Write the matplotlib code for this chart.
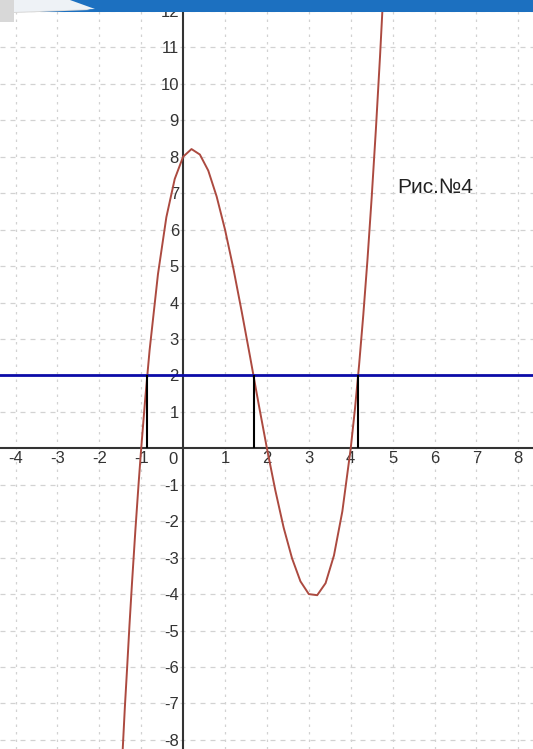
import matplotlib
matplotlib.use("Agg")
import matplotlib.pyplot as plt
from matplotlib.patches import Rectangle, Polygon

plt.rcParams['font.family'] = ['Liberation Sans', 'DejaVu Sans']

# points of the curve y = f(x)
curve_x = [-1.47, -1.39, -1.34, -1.28, -1.22, -1.14, -1.06, -1.0, -0.9, -0.8,
           -0.6, -0.4, -0.2, 0.0, 0.2, 0.4, 0.6, 0.8, 1.0, 1.2, 1.4, 1.6, 1.8,
           2.0, 2.2, 2.4, 2.6, 2.8, 3.0, 3.2, 3.4, 3.6, 3.8, 4.0, 4.1, 4.2,
           4.3, 4.4, 4.5, 4.6, 4.7, 4.8]
curve_y = [-8.9, -7.1, -6.1, -4.85, -3.7, -2.26, -0.93, 0.0, 1.42, 2.69,
           4.78, 6.34, 7.39, 8.0, 8.21, 8.06, 7.62, 6.91, 6.0, 4.93, 3.74, 2.5, 1.23,
           0.0, -1.15, -2.18, -3.02, -3.65, -4.0, -4.03, -3.7, -2.94, -1.73, 0.0, 1.07, 2.29,
           3.66, 5.18, 6.88, 8.74, 10.77, 12.99]

level = 2                        # horizontal line y = 2
cross_x = [-0.86, 1.7, 4.18]     # where the curve meets y = 2

x_ticks = [-4, -3, -2, -1, 1, 2, 3, 4, 5, 6, 7, 8]
y_ticks = [-8, -7, -6, -5, -4, -3, -2, -1, 1, 2, 3, 4, 5, 6, 7, 8, 9, 10, 11, 12]

fig = plt.figure(figsize=(5.33, 7.49), dpi=100)
ax = fig.add_axes([0, 0, 1, 1])
ax.set_xlim(-4.37, 8.35)
ax.set_ylim(-8.25, 12.3)

# axes through the origin
for side in ['top', 'right']:
    ax.spines[side].set_visible(False)
ax.spines['left'].set_position(('data', 0))
ax.spines['bottom'].set_position(('data', 0))
for side in ['left', 'bottom']:
    ax.spines[side].set_linewidth(1.5)
    ax.spines[side].set_color('#333333')
    ax.spines[side].set_zorder(3)

ax.set_xticks(x_ticks)
ax.set_yticks(y_ticks)
ax.set_xticklabels([str(v) for v in x_ticks])
ax.set_yticklabels([str(v) for v in y_ticks])
ax.tick_params(axis='both', length=0, labelsize=12, labelcolor='#333333')
ax.tick_params(axis='x', pad=2)
ax.tick_params(axis='y', pad=3)
ax.text(-0.12, -0.1, '0', ha='right', va='top', fontsize=12, color='#333333')

ax.xaxis.grid(True, color='#d2d2d2', linestyle=(0, (2, 4)), linewidth=0.9)
ax.yaxis.grid(True, color='#d2d2d2', linestyle=(0, (4, 4)), linewidth=0.9)
ax.set_axisbelow(True)

ax.plot(curve_x, curve_y, color='#ac4a40', linewidth=1.4, zorder=4)
ax.axhline(level, color='#0c0ca8', linewidth=2.0, zorder=5)
ax.vlines(cross_x, 0, level, color='black', linewidth=1.5, zorder=5)

ax.text(5.1, 7.15, 'Рис.№4', fontsize=15, color='#222222', va='center', ha='left')

# slide header band
fig.add_artist(Rectangle((0, 1 - 12 / 749), 1, 12 / 749, transform=fig.transFigure,
                         facecolor='#1c70c0', edgecolor='none', zorder=10))
fig.add_artist(Polygon([(0, 1), (0, 1 - 22 / 749), (14 / 533, 1 - 22 / 749),
                        (14 / 533, 1 - 13 / 749), (90 / 533, 1 - 10 / 749),
                        (60 / 533, 1)],
                       closed=True, transform=fig.transFigure,
                       facecolor='#d8d8d8', edgecolor='none', zorder=11))
fig.add_artist(Polygon([(14 / 533, 1), (14 / 533, 1 - 12 / 749),
                        (95 / 533, 1 - 9 / 749), (70 / 533, 1)],
                       closed=True, transform=fig.transFigure,
                       facecolor='#eef2f6', edgecolor='none', zorder=12))

fig.savefig('out.png', dpi=100)
